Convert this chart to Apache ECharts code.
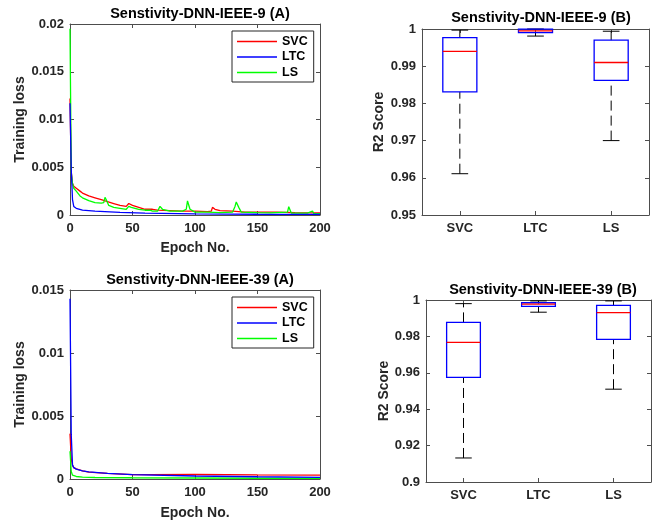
<!DOCTYPE html>
<html>
<head>
<meta charset="utf-8">
<script src="https://cdn.jsdelivr.net/npm/echarts@6/dist/echarts.min.js"></script>
<style>html,body{margin:0;padding:0;background:#fff}#c{width:660px;height:521px}</style>
</head>
<body>
<div id="c"></div>
<script>
// ---------- DATA ----------
const seriesNames = ['SVC', 'LTC', 'LS'];
const epochTicks = [0, 50, 100, 150, 200];

// IEEE-9 training loss
const svcEp9 = [0,1,2,3,5,8,10,15,20,25,30,35,40,45,46,47,48,50,55,60,64,65,66,70,80,90,100,110,113,114,116,120,130,140,150,157,158,160,165,180,200];
const svcLoss9 = [0.0122,0.0045,0.0033,0.0030,0.0028,0.0025,0.0023,0.0020,0.0018,0.0016,0.0014,0.0012,0.0010,0.0009,0.0010,0.0012,0.0010,0.0010,0.0008,0.0006,0.0006,0.0007,0.0006,0.0005,0.00045,0.0004,0.0004,0.00035,0.0004,0.0008,0.0006,0.00045,0.0004,0.0003,0.0003,0.0003,0.00045,0.0003,0.0003,0.00025,0.00022];
const ltcEp9 = [0,1,2,3,5,10,20,40,60,100,150,200];
const ltcLoss9 = [0.0117,0.0048,0.0016,0.0009,0.0007,0.0005,0.0004,0.00028,0.0002,0.00012,0.00008,0.00006];
const lsEp9 = [0,1,2,3,5,8,10,15,20,25,27,28,29,31,35,40,45,47,49,50,55,60,64,65,66,70,72,74,80,90,93,94,96,100,110,120,130,132,133,135,137,150,160,174,175,177,190,194,195,200];
const lsLoss9 = [0.0195,0.0044,0.0033,0.0028,0.0025,0.0020,0.0018,0.0015,0.0013,0.00125,0.0013,0.00185,0.0016,0.0010,0.0008,0.0007,0.0006,0.0009,0.0008,0.0007,0.0006,0.0005,0.0005,0.0006,0.0004,0.0004,0.0009,0.0006,0.0004,0.0004,0.0006,0.00147,0.0006,0.0003,0.0003,0.00025,0.0003,0.0009,0.00136,0.0008,0.0003,0.00025,0.00022,0.0003,0.00087,0.0002,0.0002,0.00042,0.00015,0.00015];

// IEEE-39 training loss
const svcEp39 = [0,1,2,3,5,10,15,30,50,64,65,100,150,200];
const svcLoss39 = [0.0036,0.0016,0.0011,0.0009,0.0008,0.00065,0.00055,0.00045,0.00035,0.00034,0.0004,0.00036,0.00032,0.0003];
const ltcEp39 = [0,1,2,3,5,10,15,30,50,100,150,200];
const ltcLoss39 = [0.0143,0.0035,0.0011,0.0009,0.00078,0.00065,0.00057,0.00045,0.00035,0.00024,0.00018,0.00013];
const lsEp39 = [0,1,2,3,5,10,20,50,100,150,200];
const lsLoss39 = [0.0022,0.0006,0.0003,0.00025,0.0002,0.00015,0.00012,0.0001,0.00008,0.00006,0.00005];

// Box plots: [min, Q1, median, Q3, max]
const boxCats = ['SVC', 'LTC', 'LS'];
const box9 = [
  [0.9611, 0.9831, 0.9940, 0.9977, 0.9997],
  [0.9981, 0.9990, 0.9995, 0.99995, 1.0000],
  [0.9700, 0.9862, 0.9910, 0.9970, 0.9994]
];
const box39 = [
  [0.9132, 0.9575, 0.9767, 0.9877, 0.9980],
  [0.9933, 0.9965, 0.9977, 0.9985, 0.9995],
  [0.9510, 0.9784, 0.9931, 0.9970, 0.9995]
];

// ---------- STYLE ----------
const FONT = '"Liberation Sans", Arial, Helvetica, sans-serif';
const AX = '#4d4d4d';
const TXT = '#262626';
const colors = { SVC: '#ff0000', LTC: '#0000ff', LS: '#00ff00' };

function pairs(xs, ys) { return xs.map((x, i) => [x, ys[i]]); }

function mainAxisStyle(showLabel) {
  return {
    axisLine: { show: true, onZero: false, lineStyle: { color: AX, width: 1 } },
    axisTick: { show: true, inside: true, length: 4, lineStyle: { color: AX } },
    axisLabel: { show: showLabel, color: TXT, fontFamily: FONT, fontWeight: 'bold', fontSize: 13 },
    splitLine: { show: false }
  };
}
const nameStyle = { color: TXT, fontFamily: FONT, fontWeight: 'bold', fontSize: 14 };

function valX(grid, pos, label, gap) {
  const a = Object.assign({ type: 'value', gridIndex: grid, position: pos, min: 0, max: 200, interval: 50 }, mainAxisStyle(label));
  if (label) {
    a.name = 'Epoch No.'; a.nameLocation = 'middle'; a.nameGap = gap; a.nameTextStyle = nameStyle;
    a.axisLabel.margin = 7;
  }
  return a;
}
function valY(grid, pos, label, min, max, interval, name, gap) {
  const a = Object.assign({ type: 'value', gridIndex: grid, position: pos, min: min, max: max, interval: interval }, mainAxisStyle(label));
  if (label) {
    a.name = name; a.nameLocation = 'middle'; a.nameGap = gap; a.nameTextStyle = nameStyle;
    a.axisLabel.margin = 6;
  }
  return a;
}
function catX(grid, pos, label) {
  const a = Object.assign({ type: 'category', gridIndex: grid, position: pos, data: boxCats, boundaryGap: true }, mainAxisStyle(label));
  a.axisTick.alignWithLabel = true;
  a.axisLabel.margin = 7;
  return a;
}

function lineSeries(name, xi, yi, data) {
  return {
    type: 'line', name: name, xAxisIndex: xi, yAxisIndex: yi, data: data,
    symbol: 'none', showSymbol: false, smooth: false, clip: true,
    lineStyle: { color: colors[name], width: 1.3 }, itemStyle: { color: colors[name] },
    z: name === 'LS' ? 3 : (name === 'SVC' ? 2 : 4)
  };
}

function boxRender(params, api) {
  const idx = api.value(0);
  const vals = [api.value(1), api.value(2), api.value(3), api.value(4), api.value(5)];
  const band = api.size([1, 0])[0];
  const bw = band * 0.45, cw = band * 0.22;
  const x = api.coord([idx, vals[2]])[0];
  const y = vals.map(v => api.coord([idx, v])[1]);
  const dash = { stroke: '#000', lineWidth: 1, lineDash: [10, 5] };
  const solid = { stroke: '#000', lineWidth: 1 };
  return {
    type: 'group',
    children: [
      { type: 'line', shape: { x1: x, y1: y[3], x2: x, y2: y[4] }, style: dash },
      { type: 'line', shape: { x1: x, y1: y[0], x2: x, y2: y[1] }, style: dash },
      { type: 'line', shape: { x1: x - cw / 2, y1: y[4], x2: x + cw / 2, y2: y[4] }, style: solid },
      { type: 'line', shape: { x1: x - cw / 2, y1: y[0], x2: x + cw / 2, y2: y[0] }, style: solid },
      { type: 'rect', shape: { x: x - bw / 2, y: y[3], width: bw, height: y[1] - y[3] }, style: { fill: null, stroke: '#0000ff', lineWidth: 1.3 } },
      { type: 'line', shape: { x1: x - bw / 2, y1: y[2], x2: x + bw / 2, y2: y[2] }, style: { stroke: '#ff0000', lineWidth: 1.3 } }
    ]
  };
}
function boxSeries(xi, yi, rows) {
  return {
    type: 'custom', xAxisIndex: xi, yAxisIndex: yi, renderItem: boxRender, clip: false,
    data: rows.map((r, i) => [i].concat(r)), encode: { x: 0, y: [1, 2, 3, 4, 5] }, silent: true
  };
}

function titleAt(text, cx, top) {
  return { text: text, left: cx, top: top, textAlign: 'center',
    textStyle: { color: '#000', fontFamily: FONT, fontWeight: 'bold', fontSize: 14.5 } };
}
function legendAt(left, top) {
  return {
    orient: 'vertical', left: left, top: top, data: seriesNames,
    icon: 'rect', itemWidth: 40, itemHeight: 1.6, itemGap: 2.5,
    borderColor: '#262626', borderWidth: 1, padding: [4, 6, 3, 5], backgroundColor: '#fff',
    textStyle: { color: '#000', fontFamily: FONT, fontWeight: 'bold', fontSize: 12.5 },
    selectedMode: false
  };
}

const option = {
  animation: false,
  backgroundColor: '#fff',
  title: [
    titleAt('Senstivity-DNN-IEEE-9 (A)', 195, 1.5),
    titleAt('Senstivity-DNN-IEEE-9 (B)', 536, 5.5),
    titleAt('Senstivity-DNN-IEEE-39 (A)', 195, 267.5),
    titleAt('Senstivity-DNN-IEEE-39 (B)', 538, 277.5)
  ],
  legend: [legendAt(232, 31), legendAt(232, 297)],
  grid: [
    { left: 70, top: 24, width: 250, height: 191 },
    { left: 422, top: 29, width: 227, height: 186 },
    { left: 70, top: 290, width: 250, height: 191 },
    { left: 426, top: 300, width: 225, height: 182 }
  ],
  xAxis: [
    valX(0, 'bottom', true, 26), valX(0, 'top', false),
    catX(1, 'bottom', true), catX(1, 'top', false),
    valX(2, 'bottom', true, 27), valX(2, 'top', false),
    catX(3, 'bottom', true), catX(3, 'top', false)
  ],
  yAxis: [
    valY(0, 'left', true, 0, 0.02, 0.005, 'Training loss', 42), valY(0, 'right', false, 0, 0.02, 0.005),
    valY(1, 'left', true, 0.95, 1, 0.01, 'R2 Score', 36), valY(1, 'right', false, 0.95, 1, 0.01),
    valY(2, 'left', true, 0, 0.015, 0.005, 'Training loss', 42), valY(2, 'right', false, 0, 0.015, 0.005),
    valY(3, 'left', true, 0.9, 1, 0.02, 'R2 Score', 35), valY(3, 'right', false, 0.9, 1, 0.02)
  ],
  series: [
    lineSeries('SVC', 0, 0, pairs(svcEp9, svcLoss9)),
    lineSeries('LTC', 0, 0, pairs(ltcEp9, ltcLoss9)),
    lineSeries('LS', 0, 0, pairs(lsEp9, lsLoss9)),
    boxSeries(2, 2, box9),
    lineSeries('SVC', 4, 4, pairs(svcEp39, svcLoss39)),
    lineSeries('LTC', 4, 4, pairs(ltcEp39, ltcLoss39)),
    lineSeries('LS', 4, 4, pairs(lsEp39, lsLoss39)),
    boxSeries(6, 6, box39)
  ]
};

const chart = echarts.init(document.getElementById('c'), null, { renderer: 'canvas' });
chart.setOption(option);
</script>
</body>
</html>
